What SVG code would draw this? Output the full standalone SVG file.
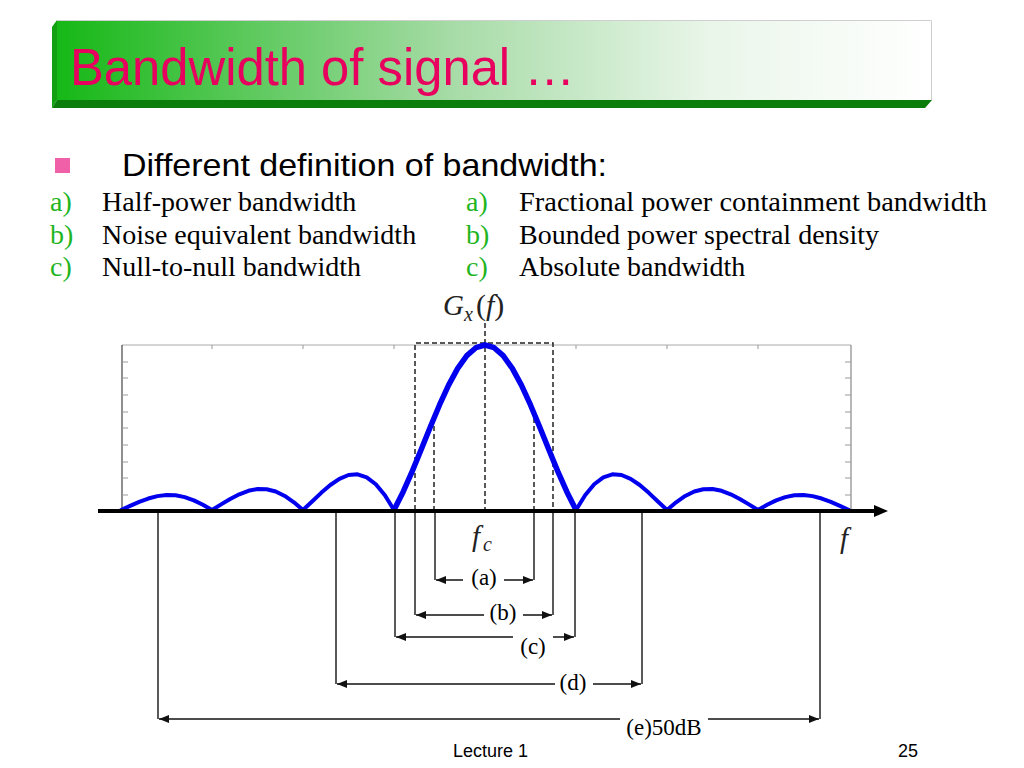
<svg xmlns="http://www.w3.org/2000/svg" width="1024" height="768" viewBox="0 0 1024 768">
<defs>
  <linearGradient id="titleGrad" x1="0" y1="0" x2="1" y2="0">
    <stop offset="0" stop-color="#16b816"/>
    <stop offset="0.45" stop-color="#a6dba6"/>
    <stop offset="0.75" stop-color="#eaf6ea"/>
    <stop offset="1" stop-color="#ffffff"/>
  </linearGradient>
  <marker id="arr" markerUnits="userSpaceOnUse" markerWidth="11" markerHeight="8" refX="10" refY="4" orient="auto">
    <path d="M0,0 L10,4 L0,8 z" fill="#111"/>
  </marker>
  <marker id="axarr" markerUnits="userSpaceOnUse" markerWidth="14" markerHeight="12" refX="2" refY="6" orient="auto">
    <path d="M0,0 L14,6 L0,12 z" fill="#000"/>
  </marker>
</defs>
<style>
  .title { font-family: "Liberation Sans", Arial, sans-serif; font-size: 52px; fill: #e8005e; }
  .head { font-family: "Liberation Sans", Arial, sans-serif; font-size: 32px; fill: #000; }
  .item { font-family: "Liberation Serif", "Times New Roman", serif; font-size: 28px; fill: #000; }
  .lbl { font-family: "Liberation Serif", "Times New Roman", serif; font-size: 28px; fill: #1fb51f; }
  .dim { font-family: "Liberation Serif", "Times New Roman", serif; font-size: 23px; fill: #000; }
  .math { font-family: "Liberation Serif", "Times New Roman", serif; fill: #222; }
  .foot { font-family: "Liberation Sans", Arial, sans-serif; font-size: 18px; fill: #000; }
  .dash { stroke: #222; stroke-width: 1.5; stroke-dasharray: 5 3; fill: none; }
  .drop { stroke: #222; stroke-width: 1.5; fill: none; }
  .arrow { stroke: #111; stroke-width: 1.5; fill: none; marker-end: url(#arr); }
  .tick { stroke: #999; stroke-width: 1; }
  .curve { fill: none; stroke: #0000ee; stroke-linejoin: round; stroke-linecap: round; }
</style>

<g id="title-bar">
  <polygon points="52,27 57,20 57,100 52,108" fill="#12a012"/>
  <polygon points="52,108 57,100 932,100 925,108" fill="#0b7d0b"/>
  <rect x="57" y="20" width="875" height="80" fill="url(#titleGrad)"/>
  <path d="M57,20.5 H931.5 V100" fill="none" stroke="#cfcfcf" stroke-width="1"/>
  <text class="title" x="70" y="85" textLength="505" lengthAdjust="spacingAndGlyphs">Bandwidth of signal …</text>
</g>

<g id="heading">
  <rect x="55" y="158" width="15" height="15" fill="#f060a8"/>
  <text class="head" x="122" y="176" textLength="485" lengthAdjust="spacingAndGlyphs">Different definition of bandwidth:</text>
</g>

<g id="list-left">
  <text class="lbl" x="50" y="211">a)</text>
  <text class="item" x="102" y="211">Half-power bandwidth</text>
  <text class="lbl" x="50" y="244">b)</text>
  <text class="item" x="102" y="244">Noise equivalent bandwidth</text>
  <text class="lbl" x="50" y="276">c)</text>
  <text class="item" x="102" y="276">Null-to-null bandwidth</text>
</g>
<g id="list-right">
  <text class="lbl" x="466" y="211">a)</text>
  <text class="item" x="519" y="211" textLength="468" lengthAdjust="spacingAndGlyphs">Fractional power containment bandwidth</text>
  <text class="lbl" x="466" y="244">b)</text>
  <text class="item" x="519" y="244">Bounded power spectral density</text>
  <text class="lbl" x="466" y="276">c)</text>
  <text class="item" x="519" y="276">Absolute bandwidth</text>
</g>

<g id="plot-frame">
  <line x1="122" y1="345" x2="851" y2="345" stroke="#aaa" stroke-width="1"/>
  <line x1="851" y1="345" x2="851" y2="510" stroke="#888" stroke-width="1.2"/>
  <line x1="122" y1="345" x2="122" y2="510" stroke="#444" stroke-width="1.2"/>
  <g class="tick">
    <line x1="212" y1="345" x2="212" y2="349"/><line x1="303" y1="345" x2="303" y2="349"/>
    <line x1="394" y1="345" x2="394" y2="349"/><line x1="576" y1="345" x2="576" y2="349"/>
    <line x1="667" y1="345" x2="667" y2="349"/><line x1="758" y1="345" x2="758" y2="349"/>
    <line x1="122" y1="362" x2="128" y2="362"/><line x1="122" y1="378" x2="128" y2="378"/>
    <line x1="122" y1="395" x2="128" y2="395"/><line x1="122" y1="412" x2="128" y2="412"/>
    <line x1="122" y1="428" x2="128" y2="428"/><line x1="122" y1="445" x2="128" y2="445"/>
    <line x1="122" y1="462" x2="128" y2="462"/><line x1="122" y1="478" x2="128" y2="478"/>
    <line x1="122" y1="495" x2="128" y2="495"/>
    <line x1="845" y1="362" x2="851" y2="362"/><line x1="845" y1="378" x2="851" y2="378"/>
    <line x1="845" y1="395" x2="851" y2="395"/><line x1="845" y1="412" x2="851" y2="412"/>
    <line x1="845" y1="428" x2="851" y2="428"/><line x1="845" y1="445" x2="851" y2="445"/>
    <line x1="845" y1="462" x2="851" y2="462"/><line x1="845" y1="478" x2="851" y2="478"/>
    <line x1="845" y1="495" x2="851" y2="495"/>
  </g>
</g>

<g id="guides">
  <line class="dash" x1="485" y1="323" x2="485" y2="510"/>
  <polyline class="dash" points="415,510 415,343 553,343 553,510"/>
  <line class="dash" x1="434" y1="418" x2="434" y2="510"/>
  <line class="dash" x1="534" y1="418" x2="534" y2="510"/>
</g>

<g id="spectrum">
  <polyline class="curve" stroke-width="4" points="121,510 130.1,505.84 139.2,501.88 148.3,498.52 157.4,496.13 166.5,494.99 175.6,495.31 184.7,497.12 193.8,500.35 202.9,504.76 212,510 221.1,504.40 230.2,498.97 239.3,494.26 248.4,490.79 257.5,488.99 266.6,489.19 275.7,491.53 284.8,495.97 293.9,502.27 303,510 312.1,501.46 321.2,492.85 330.3,485.01 339.4,478.78 348.5,474.99 357.6,474.32 366.7,477.32 375.8,484.27 384.9,495.25 394,510"/>
  <polyline class="curve" stroke-width="5.5" points="394,510 403.1,491.97 412.2,471.41 421.3,449.30 430.4,426.75 439.5,404.96 448.6,385.12 457.7,368.37 466.8,355.64 475.9,347.70 485,345 494.1,347.70 503.2,355.64 512.3,368.37 521.4,385.12 530.5,404.96 539.6,426.75 548.7,449.30 557.8,471.41 566.9,491.97 576,510"/>
  <polyline class="curve" stroke-width="4" points="576,510 585.1,495.25 594.2,484.27 603.3,477.32 612.4,474.32 621.5,474.99 630.6,478.78 639.7,485.01 648.8,492.85 657.9,501.46 667,510 676.1,502.27 685.2,495.97 694.3,491.53 703.4,489.19 712.5,488.99 721.6,490.79 730.7,494.26 739.8,498.97 748.9,504.40 758,510 767.1,504.76 776.2,500.35 785.3,497.12 794.4,495.31 803.5,494.99 812.6,496.13 821.7,498.52 830.8,501.88 839.9,505.84 849,510"/>
</g>

<g id="freq-axis">
  <line x1="98" y1="511" x2="876" y2="511" stroke="#000" stroke-width="4" marker-end="url(#axarr)"/>
</g>

<g id="axis-labels">
  <text class="math" x="443" y="315" font-size="29" font-style="italic">G</text>
  <text class="math" x="464" y="321" font-size="20" font-style="italic">x</text>
  <text class="math" x="476" y="315" font-size="30">(<tspan font-style="italic">f</tspan>)</text>
  <text class="math" x="472" y="546" font-size="29" font-style="italic">f</text>
  <text class="math" x="483" y="551" font-size="20" font-style="italic">c</text>
  <text class="math" x="840" y="548" font-size="29" font-style="italic">f</text>
</g>

<g id="connectors">
  <line class="drop" x1="435" y1="513" x2="435" y2="580"/>
  <line class="drop" x1="534" y1="513" x2="534" y2="580"/>
  <line class="drop" x1="415" y1="513" x2="415" y2="615"/>
  <line class="drop" x1="553" y1="513" x2="553" y2="615"/>
  <line class="drop" x1="395" y1="513" x2="395" y2="637"/>
  <line class="drop" x1="575" y1="513" x2="575" y2="637"/>
  <line class="drop" x1="336" y1="513" x2="336" y2="684"/>
  <line class="drop" x1="642" y1="513" x2="642" y2="684"/>
  <line class="drop" x1="158" y1="513" x2="158" y2="719"/>
  <line class="drop" x1="820" y1="513" x2="820" y2="719"/>

  <line class="arrow" x1="463" y1="580" x2="436" y2="580"/>
  <line class="arrow" x1="504" y1="580" x2="533" y2="580"/>
  <line class="arrow" x1="484" y1="615" x2="416" y2="615"/>
  <line class="arrow" x1="523" y1="615" x2="552" y2="615"/>
  <line class="arrow" x1="513" y1="637" x2="396" y2="637"/>
  <line class="arrow" x1="553" y1="637" x2="574" y2="637"/>
  <line class="arrow" x1="555" y1="684" x2="337" y2="684"/>
  <line class="arrow" x1="593" y1="684" x2="641" y2="684"/>
  <line class="arrow" x1="620" y1="719" x2="159" y2="719"/>
  <line class="arrow" x1="708" y1="719" x2="819" y2="719"/>
</g>

<g id="dim-labels">
  <text class="dim" x="484" y="585" text-anchor="middle">(a)</text>
  <text class="dim" x="503" y="620" text-anchor="middle">(b)</text>
  <text class="dim" x="533" y="654" text-anchor="middle">(c)</text>
  <text class="dim" x="573" y="690" text-anchor="middle">(d)</text>
  <text class="dim" x="664" y="735" text-anchor="middle">(e)50dB</text>
</g>

<g id="footer">
  <text class="foot" x="453" y="757">Lecture 1</text>
  <text class="foot" x="898" y="757">25</text>
</g>
</svg>
